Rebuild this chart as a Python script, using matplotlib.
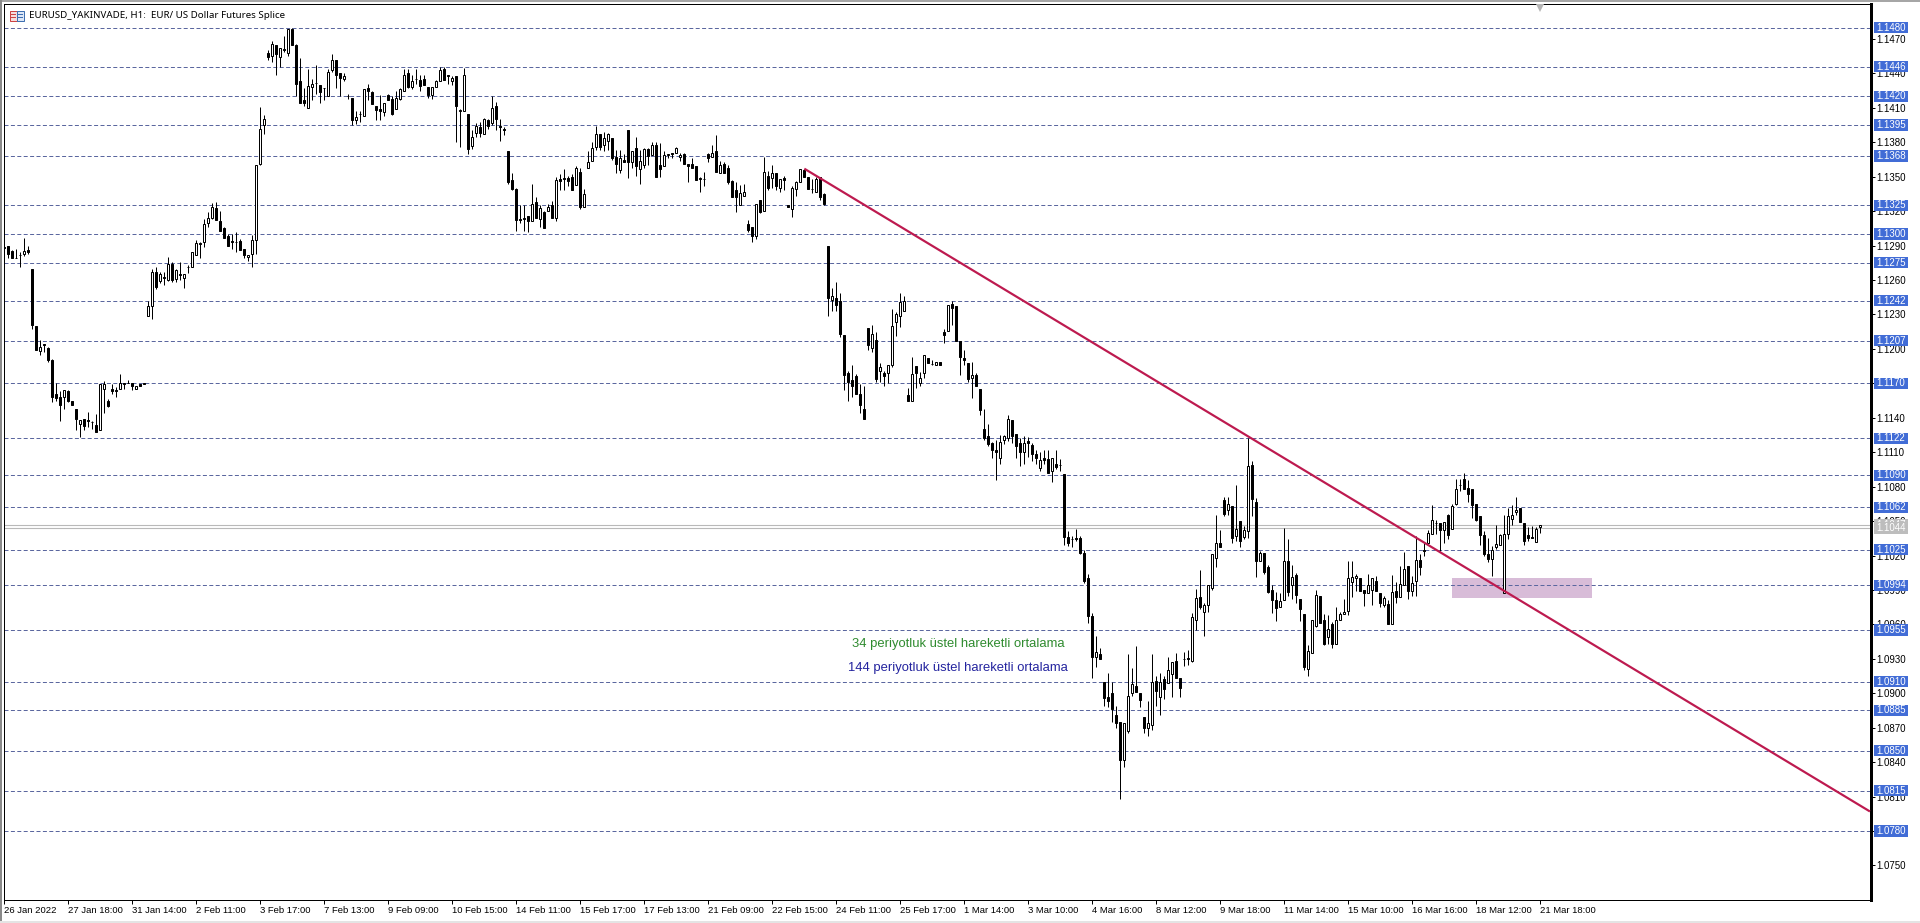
import matplotlib
matplotlib.use("Agg")
import matplotlib.pyplot as plt
from matplotlib.patches import Rectangle
from matplotlib.transforms import blended_transform_factory

opens = [
11289,11290,11285,11279,11282,11283,11286,11270,11220,11198,
11204,11201,11190,11161,11158,11158,11163,11155,11148,11135,
11139,11138,11136,11134,11129,11165,11155,11165,11164,11165,
11170,11170,11170,11165,11169,11170,11229,11237,11267,11259,
11263,11260,11274,11261,11265,11262,11271,11271,11282,11291,
11293,11310,11314,11323,11311,11305,11298,11294,11293,11294,
11287,11280,11283,11295,11361,11395,11458,11455,11465,11454,
11461,11458,11479,11465,11433,11417,11410,11428,11432,11430,
11427,11420,11443,11452,11440,11435,11420,11419,11399,11405,
11403,11427,11424,11412,11409,11406,11421,11418,11409,11418,
11425,11440,11428,11435,11434,11435,11428,11421,11428,11433,
11444,11439,11433,11438,11407,11407,11405,11377,11388,11393,
11387,11399,11397,11412,11394,11392,11372,11347,11339,11313,
11314,11316,11311,11328,11313,11319,11320,11325,11314,11348,
11349,11349,11350,11343,11354,11324,11358,11364,11376,11387,
11378,11381,11384,11367,11356,11365,11391,11363,11375,11357,
11360,11374,11369,11378,11360,11359,11369,11371,11371,11367,
11370,11361,11361,11359,11348,11348,11370,11367,11372,11353,
11361,11358,11346,11338,11325,11333,11309,11306,11298,11330,
11320,11351,11349,11353,11340,11349,11325,11322,11339,11345,
11356,11350,11339,11337,11350,11335,11290,11243,11244,11242,
11212,11179,11173,11176,11161,11148,11218,11201,11208,11181,
11179,11179,11186,11223,11229,11233,11160,11155,11185,11170,
11179,11192,11187,11186,11189,11215,11216,11239,11237,11207,
11192,11188,11175,11177,11165,11130,11124,11118,11112,11105,
11121,11122,11138,11126,11118,11110,11120,11116,11108,11096,
11105,11104,11094,11100,11099,11091,11036,11034,11035,11035,
11022,11000,10967,10932,10934,10910,10897,10900,10881,10875,
10842,10867,10900,10906,10900,10879,10870,10872,10911,10897,
10912,10909,10917,10928,10913,10930,10931,10928,10964,10984,
10971,10977,10992,11018,11031,11068,11060,11063,11037,11050,
11036,11041,11099,11067,11015,11022,11010,10990,10981,10975,
10981,11015,10994,11003,10982,10969,10921,10935,10959,10985,
10964,10949,10960,10943,10964,10969,10972,10997,11000,11000,
10990,10987,10990,10998,10987,10977,10978,10960,10989,10984,
10994,11011,10989,10998,11016,11025,11031,11039,11048,11048,
11042,11055,11043,11065,11081,11087,11079,11078,11065,11054,
11038,11021,11017,11027,11029,10987,11039,11052,11058,11061,
11048,11038,11036,11032,11045]

highs = [
11290,11290,11286,11287,11284,11297,11290,11270,11220,11208,
11204,11202,11191,11170,11163,11164,11164,11155,11148,11138,
11139,11145,11137,11143,11169,11172,11156,11169,11167,11178,
11170,11173,11170,11168,11169,11170,11242,11270,11271,11267,
11267,11280,11276,11270,11276,11265,11273,11284,11295,11293,
11313,11319,11327,11328,11320,11306,11300,11300,11302,11296,
11287,11282,11299,11360,11411,11404,11460,11468,11465,11462,
11473,11479,11480,11466,11453,11427,11444,11435,11447,11430,
11427,11444,11457,11452,11440,11440,11422,11419,11407,11407,
11426,11431,11425,11412,11421,11414,11422,11420,11425,11427,
11444,11444,11439,11444,11439,11439,11428,11428,11434,11446,
11446,11439,11438,11438,11409,11445,11405,11391,11397,11398,
11401,11400,11420,11415,11400,11393,11372,11353,11340,11325,
11325,11316,11344,11332,11325,11320,11326,11329,11350,11352,
11357,11351,11352,11359,11358,11339,11372,11380,11394,11387,
11389,11388,11384,11373,11373,11370,11391,11372,11385,11373,
11375,11375,11380,11380,11379,11372,11370,11371,11376,11371,
11371,11361,11366,11359,11350,11354,11371,11378,11386,11364,
11363,11360,11347,11345,11343,11344,11312,11306,11326,11330,
11367,11355,11360,11353,11348,11351,11325,11342,11346,11357,
11357,11350,11348,11350,11350,11336,11290,11253,11258,11249,
11212,11181,11186,11178,11169,11168,11218,11221,11215,11188,
11181,11186,11235,11232,11249,11246,11166,11193,11185,11180,
11195,11192,11190,11189,11189,11217,11238,11242,11237,11207,
11199,11188,11189,11179,11165,11148,11135,11119,11121,11125,
11125,11142,11138,11126,11122,11124,11123,11118,11112,11110,
11112,11112,11105,11112,11104,11091,11041,11037,11043,11037,
11025,11004,10970,10950,10939,10910,10918,10910,10889,10875,
10874,10934,10922,10941,10900,10879,10893,10934,10915,10918,
10915,10932,10927,10935,10913,10936,10938,10970,10991,11007,
10979,10994,11021,11055,11042,11071,11071,11063,11081,11050,
11046,11122,11102,11070,11024,11022,11012,10994,10988,10987,
11044,11034,11012,11005,10982,10969,10942,10964,10990,10985,
10969,10968,10962,10975,10971,10982,11015,11015,11004,11000,
10990,11004,11000,11002,10987,10985,10981,11003,10997,11011,
11023,11011,11002,11037,11021,11031,11042,11064,11051,11048,
11049,11056,11065,11087,11087,11092,11086,11078,11065,11054,
11041,11035,11028,11047,11039,11055,11061,11064,11071,11061,
11048,11045,11046,11045,11047]

lows = [
11288,11279,11279,11279,11271,11281,11283,11217,11199,11195,
11197,11189,11154,11155,11137,11148,11154,11151,11129,11123,
11129,11132,11130,11128,11129,11144,11149,11161,11158,11165,
11165,11170,11164,11165,11168,11169,11229,11226,11252,11257,
11256,11259,11258,11258,11260,11253,11266,11271,11282,11279,
11289,11306,11313,11312,11303,11297,11290,11287,11284,11286,
11279,11277,11271,11283,11360,11387,11452,11450,11439,11446,
11459,11455,11465,11420,11414,11412,11410,11417,11422,11414,
11417,11420,11441,11427,11420,11433,11418,11395,11396,11398,
11403,11417,11413,11399,11399,11403,11417,11404,11409,11417,
11425,11427,11426,11431,11425,11430,11419,11418,11428,11433,
11434,11431,11430,11380,11376,11407,11370,11374,11385,11385,
11387,11392,11395,11391,11381,11386,11344,11338,11303,11310,
11303,11302,11311,11314,11306,11305,11320,11314,11311,11338,
11338,11342,11338,11343,11322,11324,11358,11364,11373,11373,
11372,11373,11365,11353,11353,11363,11349,11358,11351,11344,
11358,11360,11369,11350,11350,11359,11366,11366,11371,11364,
11361,11345,11358,11347,11337,11342,11363,11367,11354,11353,
11353,11344,11332,11319,11325,11333,11302,11293,11296,11318,
11320,11338,11340,11338,11337,11338,11324,11315,11333,11345,
11350,11339,11336,11337,11330,11325,11229,11233,11233,11210,
11164,11155,11158,11161,11144,11139,11199,11197,11171,11171,
11168,11170,11184,11211,11219,11233,11155,11155,11166,11168,
11175,11188,11186,11186,11186,11205,11216,11221,11207,11177,
11186,11171,11157,11168,11142,11121,11115,11105,11086,11100,
11117,11120,11118,11105,11098,11100,11106,11102,11100,11094,
11100,11092,11084,11095,11094,11029,11028,11027,11033,11021,
10996,10961,10913,10923,10930,10889,10888,10875,10870,10808,
10836,10865,10898,10901,10888,10865,10863,10868,10889,10881,
10895,10909,10897,10913,10897,10924,10925,10927,10955,10973,
10950,10971,10990,11010,11027,11054,11055,11031,11033,11027,
11034,11035,11054,11001,11015,11004,10987,10970,10963,10975,
10981,10985,10982,10979,10963,10920,10915,10935,10958,10961,
10942,10943,10939,10943,10964,10969,10968,10984,10989,10989,
10976,10987,10977,10989,10975,10975,10960,10960,10979,10984,
10994,10982,10985,10985,11003,11020,11030,11039,11039,11024,
11031,11034,11043,11064,11076,11078,11067,11053,11050,11029,
11020,11014,11002,11026,11029,10987,11034,11047,11055,11049,
11029,11033,11035,11032,11040]

closes = [
11288,11283,11279,11279,11282,11285,11284,11221,11199,11202,
11203,11190,11158,11157,11151,11164,11155,11151,11139,11138,
11133,11137,11136,11128,11169,11169,11150,11163,11163,11170,
11169,11170,11168,11168,11168,11169,11237,11267,11254,11265,
11262,11274,11260,11269,11264,11265,11271,11284,11292,11292,
11309,11314,11324,11312,11303,11297,11290,11293,11293,11286,
11282,11282,11295,11360,11392,11400,11454,11466,11457,11462,
11460,11479,11465,11431,11414,11414,11429,11431,11432,11424,
11427,11441,11452,11439,11436,11438,11420,11399,11402,11405,
11426,11425,11413,11408,11407,11414,11417,11405,11419,11426,
11439,11428,11433,11435,11429,11430,11421,11428,11433,11443,
11434,11438,11436,11412,11408,11439,11374,11385,11394,11388,
11400,11394,11410,11400,11393,11391,11345,11339,11312,11312,
11313,11311,11326,11314,11323,11305,11324,11314,11347,11346,
11348,11346,11338,11358,11324,11335,11363,11375,11387,11376,
11384,11387,11366,11361,11366,11363,11363,11372,11359,11364,
11374,11368,11378,11350,11357,11369,11370,11370,11375,11369,
11361,11359,11358,11347,11349,11348,11366,11371,11354,11360,
11353,11345,11332,11332,11336,11337,11304,11298,11326,11319,
11354,11340,11353,11342,11348,11347,11324,11340,11345,11357,
11350,11339,11339,11348,11332,11326,11244,11246,11238,11213,
11177,11171,11168,11161,11151,11139,11203,11213,11174,11184,
11176,11186,11220,11230,11241,11242,11155,11178,11179,11175,
11195,11188,11187,11189,11186,11212,11238,11236,11207,11193,
11190,11174,11177,11168,11147,11122,11117,11112,11110,11119,
11124,11139,11124,11115,11110,11118,11118,11108,11105,11103,
11103,11092,11105,11097,11099,11036,11031,11034,11034,11022,
10998,10967,10932,10936,10930,10896,10893,10886,10874,10842,
10874,10898,10908,10901,10894,10870,10874,10910,10902,10910,
10904,10920,10927,10913,10905,10930,10930,10966,10983,10975,
10977,10994,11021,11031,11027,11056,11065,11035,11043,11033,
11042,11098,11069,11015,11022,11006,10988,10981,10974,10980,
11015,10988,11001,10986,10973,10923,10937,10964,10986,10961,
10943,10956,10943,10964,10969,10971,11000,11001,11002,10989,
10987,10994,11000,10989,10979,10983,10960,10988,10984,10995,
11008,10989,10996,11016,11010,11024,11040,11051,11048,11042,
11049,11038,11063,11078,11081,11078,11074,11064,11051,11038,
11021,11017,11025,11030,11038,11039,11054,11055,11060,11049,
11033,11035,11035,11043,11047]

levels = [1.1480, 1.1446, 1.1420, 1.1395, 1.1368, 1.1325, 1.1300, 1.1275, 1.1242,
          1.1207, 1.1170, 1.1122, 1.1090, 1.1062, 1.1025, 1.0994, 1.0955, 1.0910,
          1.0885, 1.0850, 1.0815, 1.0780]
gray_levels = [1.1047, 1.1044]
price_ticks = [1.1470, 1.1440, 1.1410, 1.1380, 1.1350, 1.1320, 1.1290, 1.1260, 1.1230,
               1.1200, 1.1170, 1.1140, 1.1110, 1.1080, 1.1050, 1.1020, 1.0990, 1.0960,
               1.0930, 1.0900, 1.0870, 1.0840, 1.0810, 1.0780, 1.0750]
date_labels = ["26 Jan 2022", "27 Jan 18:00", "31 Jan 14:00", "2 Feb 11:00", "3 Feb 17:00",
               "7 Feb 13:00", "9 Feb 09:00", "10 Feb 15:00", "14 Feb 11:00", "15 Feb 17:00",
               "17 Feb 13:00", "21 Feb 09:00", "22 Feb 15:00", "24 Feb 11:00", "25 Feb 17:00",
               "1 Mar 14:00", "3 Mar 10:00", "4 Mar 16:00", "8 Mar 12:00", "9 Mar 18:00",
               "11 Mar 14:00", "15 Mar 10:00", "16 Mar 16:00", "18 Mar 12:00", "21 Mar 18:00"]
date_step = 16
trend_x = [200, 466.4]
trend_y = [1.1357, 1.0797]
zone_x = [362, 397]
zone_y = [1.0983, 1.1000]
title = "EURUSD_YAKINVADE, H1:  EUR/ US Dollar Futures Splice"
note_34 = "34 periyotluk üstel hareketli ortalama"
note_144 = "144 periyotluk üstel hareketli ortalama"

W, H = 1920, 923
PX = 0.72  # one pixel in points at dpi 100
plt.rcParams["font.family"] = ["Liberation Sans", "DejaVu Sans"]

fig = plt.figure(figsize=(W / 100, H / 100), dpi=100, facecolor="white")
left, right, top, bottom = 4, 1870.5, 4, 900
ax = fig.add_axes([left / W, 1 - bottom / H, (right - left) / W, (bottom - top) / H])

def px_to_index(x):
    return (x - 4.33) / 4

def px_to_price(y):
    return (11480 - (y - 27.5) * 0.8712) / 10000

ax.set_xlim(px_to_index(left), px_to_index(right))
ax.set_ylim(px_to_price(bottom), px_to_price(top))

for lv in levels:
    ax.axhline(lv, color="#5b679f", lw=PX, dashes=(4, 2.4), zorder=2)
for lv in gray_levels:
    ax.axhline(lv, color="#b9b9b9", lw=PX * 1.1, zorder=2)

ax.add_patch(Rectangle((zone_x[0], zone_y[0]), zone_x[1] - zone_x[0], zone_y[1] - zone_y[0],
                       facecolor="#d8bcd8", edgecolor="none", zorder=1))

for i, (o, h, l, c) in enumerate(zip(opens, highs, lows, closes)):
    o, h, l, c = o / 1e4, h / 1e4, l / 1e4, c / 1e4
    ax.vlines(i, l, h, color="black", lw=PX, zorder=3)
    up = c >= o
    lo, hi = min(o, c), max(o, c)
    ax.bar(i, hi - lo, bottom=lo, width=0.5, facecolor="white" if up else "black",
           edgecolor="black", linewidth=PX, zorder=4)

ax.plot(trend_x, trend_y, color="#bd1a4f", lw=PX * 2.2, zorder=5, solid_capstyle="butt")

ax.yaxis.tick_right()
ax.set_yticks(price_ticks)
ax.set_yticklabels([f"{v:.4f}" for v in price_ticks])
ax.tick_params(axis="y", direction="out", length=3, width=PX, pad=1.5, labelsize=7, colors="black")
ax.set_xticks(range(0, len(opens), date_step))
ax.set_xticklabels(date_labels, ha="left")
ax.tick_params(axis="x", direction="out", length=3, width=PX, pad=1.5, labelsize=6.8, colors="black")
for s in ax.spines.values():
    s.set_linewidth(PX)
    s.set_color("black")
ax.spines["right"].set_linewidth(PX * 3)

blend = blended_transform_factory(ax.transAxes, ax.transData)
tag_x0 = (1873.5 - left) / (right - left)
tag_w = 34.5 / (right - left)
tag_h = 0.00098
for lv in levels:
    ax.add_patch(Rectangle((tag_x0, lv - tag_h / 2), tag_w, tag_h, transform=blend, clip_on=False,
                           facecolor="#416cd6", edgecolor="none", zorder=6))
    ax.text(tag_x0 + tag_w / 2, lv, f"{lv:.4f}", transform=blend, color="white", fontsize=7,
            ha="center", va="center", zorder=7, clip_on=False)
for n, lv in enumerate(gray_levels):
    ax.add_patch(Rectangle((tag_x0, lv - tag_h / 2), tag_w, tag_h, transform=blend, clip_on=False,
                           facecolor="#bdbdbd", edgecolor="none", zorder=8 + 2 * n))
    ax.text(tag_x0 + tag_w / 2, lv, f"{lv:.4f}", transform=blend, color="white", fontsize=7,
            ha="center", va="center", zorder=9 + 2 * n, clip_on=False)

fig.text(852 / W, 1 - 644 / H, note_34, color="#2f8b2f", fontsize=9.4, ha="left", va="center")
fig.text(848 / W, 1 - 668 / H, note_144, color="#24249f", fontsize=9.4, ha="left", va="center")
fig.text(29 / W, 1 - 15.5 / H, title, color="black", fontsize=7.0, ha="left", va="center",
         family=["Noto Sans", "DejaVu Sans"])

def px_rect(x0, y0, w, h, **kw):
    fig.add_artist(Rectangle((x0 / W, 1 - (y0 + h) / H), w / W, h / H,
                             transform=fig.transFigure, **kw))

# window chrome and the chart icon
px_rect(0, 0, 1920, 2, facecolor="#a6a6a6", edgecolor="none")
px_rect(0, 0, 1.6, 923, facecolor="#8a8a8a", edgecolor="none")
px_rect(0, 921, 1920, 2, facecolor="#e4e4e4", edgecolor="none")
px_rect(9.5, 11, 7, 9.5, facecolor="#f6dcdc", edgecolor="#cc4444", linewidth=PX)
px_rect(16.5, 11, 7, 9.5, facecolor="#dce6f6", edgecolor="#3f6fb0", linewidth=PX)
for yy in (14, 17):
    px_rect(10.5, yy, 5, 1, facecolor="#cc4444", edgecolor="none")
    px_rect(17.5, yy, 5, 1, facecolor="#3f6fb0", edgecolor="none")
ax.plot([len(opens) - 1], [px_to_price(6.5)], marker="v", ms=7, color="#b5b5b5", mew=0, zorder=6,
        clip_on=True)

fig.savefig("out.png", dpi=100)
